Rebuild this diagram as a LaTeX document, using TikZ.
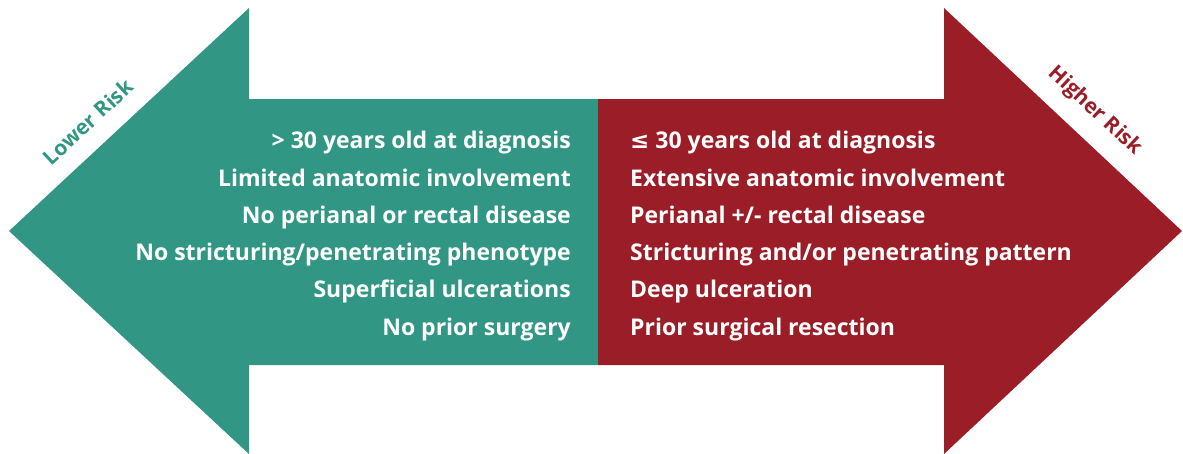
\documentclass[tikz,border=0pt]{standalone}
\usepackage{fontspec}
\setmainfont{Open Sans}
\newfontfamily\symfont{DejaVu Sans}
\definecolor{lowcol}{HTML}{319683}
\definecolor{highcol}{HTML}{9A1D27}
\begin{document}
\begin{tikzpicture}[x=1pt,y=-1pt,
  listtext/.style={text=white,font=\bfseries\fontsize{23}{37.3}\selectfont,inner sep=0pt},
  risklabel/.style={font=\bfseries\fontsize{21}{24}\selectfont,inner sep=0pt}]
\useasboundingbox (0,0) rectangle (1183,453);
\fill[lowcol] (9,231) -- (249,8) -- (249,99) -- (598,99) -- (598,365) -- (249,365) -- (249,454) -- cycle;
\fill[highcol] (598,99) -- (944,99) -- (944,8) -- (1182,231) -- (944,454) -- (944,365) -- (598,365) -- cycle;
\node[listtext,align=right,anchor=east] (lowlist) at (571,236) {%
> 30 years old at diagnosis\\
Limited anatomic involvement\\
No perianal or rectal disease\\
No stricturing/penetrating phenotype\\
Superficial ulcerations\\
No prior surgery};
\node[listtext,align=left,anchor=west] (highlist) at (630,236) {%
{\symfont\bfseries ≤} 30 years old at diagnosis\\
Extensive anatomic involvement\\
Perianal +/- rectal disease\\
Stricturing and/or penetrating pattern\\
Deep ulceration\\
Prior surgical resection};
\node[risklabel,text=lowcol,rotate=43] (lowlabel) at (88,122) {Lower Risk};
\node[risklabel,text=highcol,rotate=-43] (highlabel) at (1095,111) {Higher Risk};
\end{tikzpicture}
\end{document}
